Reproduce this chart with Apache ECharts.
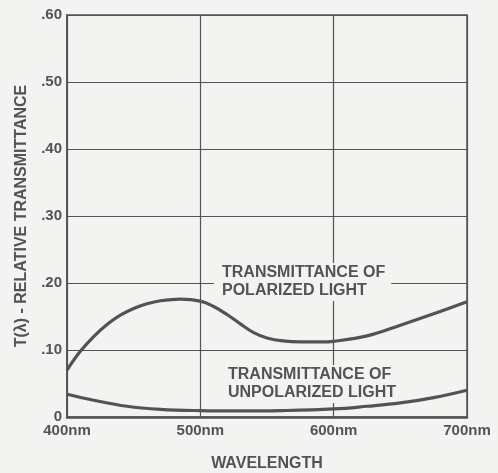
<!DOCTYPE html>
<html>
<head>
<meta charset="utf-8">
<script src="https://cdn.jsdelivr.net/npm/echarts@6/dist/echarts.min.js"></script>
<style>
html,body{margin:0;padding:0;background:#f3f3f2;}
#c{width:498px;height:473px;}
</style>
</head>
<body>
<div id="c"></div>
<script>
// ---- data ----
const wavelengthsPolarized = [400,410,420,430,440,450,460,470,485,500,510,520,530,540,550,562,575,590,600,625,650,675,700];
const valuesPolarized      = [0.070,0.098,0.120,0.138,0.152,0.162,0.169,0.1735,0.176,0.173,0.165,0.153,0.139,0.126,0.118,0.1135,0.112,0.112,0.113,0.121,0.137,0.154,0.172];
const wavelengthsUnpolarized = [400,420,445,470,500,530,560,600,625,650,675,700];
const valuesUnpolarized      = [0.034,0.025,0.016,0.0115,0.0095,0.009,0.0095,0.012,0.016,0.021,0.029,0.040];
const yTickLabels = ['0','.10','.20','.30','.40','.50','.60'];
const xTickLabels = ['400nm','500nm','600nm','700nm'];
const labelPolarized = 'TRANSMITTANCE OF\nPOLARIZED LIGHT';
const labelUnpolarized = 'TRANSMITTANCE OF\nUNPOLARIZED LIGHT';

const ink = '#535353';
const bg = '#f3f3f2';
const font = '"Liberation Sans", Arial, sans-serif';

const chart = echarts.init(document.getElementById('c'), null, {renderer:'canvas'});
const pairs = (xs, ys) => xs.map((x,i)=>[x, ys[i]]);

chart.setOption({
  backgroundColor: bg,
  animation: false,
  grid: {left:67, right:31, top:15, bottom:56, containLabel:false, outerBoundsMode:'none',
         show:true, borderColor:ink, borderWidth:1.5, backgroundColor:'transparent'},
  xAxis: {
    type:'value', min:400, max:700, interval:100,
    name:'WAVELENGTH', nameLocation:'middle', nameGap:39,
    nameTextStyle:{color:ink, fontFamily:font, fontWeight:'bold', fontSize:16},
    axisLine:{show:true, lineStyle:{color:ink, width:2.5}},
    axisTick:{show:false},
    axisLabel:{color:ink, fontFamily:font, fontWeight:'bold', fontSize:15, margin:6,
      formatter:(v)=>xTickLabels[Math.round((v-400)/100)]},
    splitLine:{show:true, lineStyle:{color:ink, width:1.2}}
  },
  yAxis: {
    type:'value', min:0, max:0.6, interval:0.1,
    name:'T(λ) - RELATIVE TRANSMITTANCE', nameLocation:'middle', nameGap:37,
    nameTextStyle:{color:ink, fontFamily:font, fontWeight:'bold', fontSize:16},
    axisLine:{show:true, lineStyle:{color:ink, width:1.5}},
    axisTick:{show:false},
    axisLabel:{color:ink, fontFamily:font, fontWeight:'bold', fontSize:15, margin:5,
      formatter:(v)=>yTickLabels[Math.round(v*10)]},
    splitLine:{show:true, lineStyle:{color:ink, width:1.2}}
  },
  series: [
    {type:'line', data:pairs(wavelengthsPolarized, valuesPolarized), smooth:0.4, showSymbol:false,
     lineStyle:{color:ink, width:3.2}, z:5},
    {type:'line', data:pairs(wavelengthsUnpolarized, valuesUnpolarized), smooth:0.4, showSymbol:false,
     lineStyle:{color:ink, width:3.2}, z:5}
  ],
  graphic: [
    {type:'text', left:214, top:263, z:3,
     style:{text:labelPolarized, fill:ink, font:'bold 16px '+font, lineHeight:18,
            backgroundColor:bg, padding:[1,6,1,8]}},
    {type:'text', left:220, top:365, z:3,
     style:{text:labelUnpolarized, fill:ink, font:'bold 16px '+font, lineHeight:18,
            backgroundColor:bg, padding:[1,4,1,8]}}
  ]
});
</script>
</body>
</html>
